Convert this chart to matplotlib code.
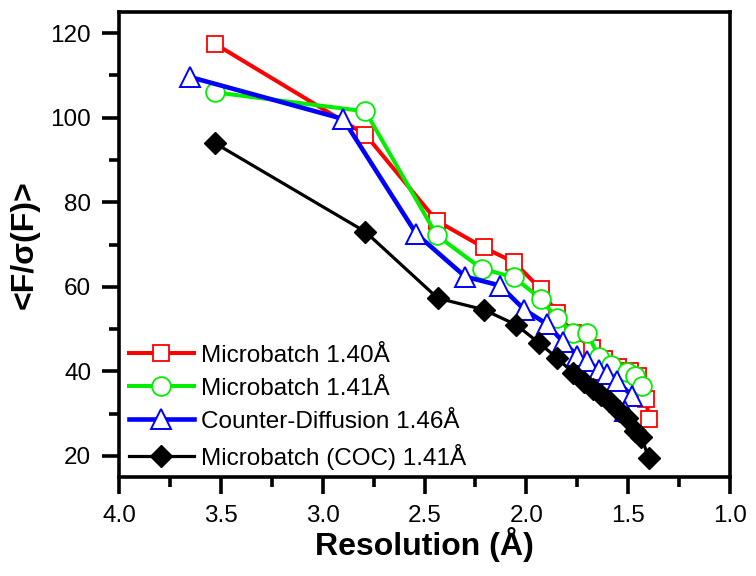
import matplotlib
matplotlib.use("Agg")
import matplotlib.pyplot as plt
from matplotlib.ticker import MultipleLocator, FormatStrFormatter

plt.rcParams['font.family'] = ['Liberation Sans', 'DejaVu Sans']

red_x = [3.53, 2.79, 2.44, 2.21, 2.06, 1.93, 1.85, 1.77, 1.68, 1.62, 1.55, 1.49, 1.45, 1.41, 1.40]
red_y = [117.5, 96, 75.6, 69.3, 65.8, 59.5, 53.7, 49, 45.6, 43, 41, 40, 39, 33.5, 28.7]

green_x = [3.53, 2.79, 2.44, 2.22, 2.06, 1.93, 1.85, 1.77, 1.70, 1.645, 1.585, 1.505, 1.465, 1.43]
green_y = [106, 101.5, 72.2, 64.3, 62.2, 57.2, 52.5, 49, 49, 43.5, 41.5, 39.8, 38.8, 36.5]

blue_x = [3.65, 2.90, 2.54, 2.30, 2.13, 2.01, 1.90, 1.82, 1.75, 1.70, 1.645, 1.605, 1.555, 1.48, 1.515]
blue_y = [109.6, 99.7, 72.5, 62.4, 60.3, 54.6, 51.2, 47, 43.7, 42.5, 40.3, 39.4, 37.6, 34.2, 30.6]

black_x = [3.53, 2.79, 2.435, 2.21, 2.05, 1.94, 1.85, 1.77, 1.715, 1.675, 1.635, 1.595, 1.545, 1.505, 1.465, 1.435, 1.40]
black_y = [94, 73, 57.3, 54.6, 51, 46.8, 43.2, 39.6, 37.5, 35.8, 34.5, 33, 30.5, 29, 26, 24.5, 19.6]

labels = ["Microbatch 1.40Å", "Microbatch 1.41Å", "Counter-Diffusion 1.46Å", "Microbatch (COC) 1.41Å"]

fig = plt.figure(figsize=(7.56, 5.76), dpi=100)
ax = fig.add_axes([119 / 756, 99 / 576, 611 / 756, 465 / 576])

ax.plot(red_x, red_y, color='#ff0000', lw=2.9, marker='s', ms=12, mfc='white', mec='#ff0000', mew=1.3, label=labels[0])
ax.plot(green_x, green_y, color='#00ee00', lw=2.9, marker='o', ms=13.5, mfc='white', mec='#00ee00', mew=1.3, label=labels[1])
ax.plot(blue_x, blue_y, color='#0000ff', lw=3.3, marker='^', ms=14.5, mfc='white', mec='#0000ff', mew=1.4, label=labels[2])
ax.plot(black_x, black_y, color='black', lw=2.3, marker='D', ms=11, mfc='black', mec='black', label=labels[3])

ax.set_xlim(4.0, 1.0)
ax.set_ylim(15, 125)
ax.xaxis.set_major_locator(MultipleLocator(0.5))
ax.xaxis.set_minor_locator(MultipleLocator(0.25))
ax.yaxis.set_minor_locator(MultipleLocator(10))
ax.set_yticks([20, 40, 60, 80, 100, 120])
ax.xaxis.set_major_formatter(FormatStrFormatter('%.1f'))

for s in ax.spines.values():
    s.set_linewidth(2.6)
ax.tick_params(which='major', direction='out', length=12, width=2.6, labelsize=17.5)
ax.tick_params(axis='x', which='major', pad=8)
ax.tick_params(axis='y', which='major', pad=8)
ax.tick_params(which='minor', direction='out', length=7, width=2.6)
ax.tick_params(top=False, right=False)

ax.set_xlabel("Resolution (Å)", fontsize=23, fontweight='bold', labelpad=0)
ax.set_ylabel("<F/σ(F)>", fontsize=23, fontweight='bold', labelpad=8)

leg = ax.legend(loc='lower left', frameon=False, fontsize=17.5, handlelength=2.67,
                handletextpad=0.3, labelspacing=0.45, borderaxespad=0.0,
                bbox_to_anchor=(0.0, -0.005))

fig.savefig("out.png", dpi=100)
